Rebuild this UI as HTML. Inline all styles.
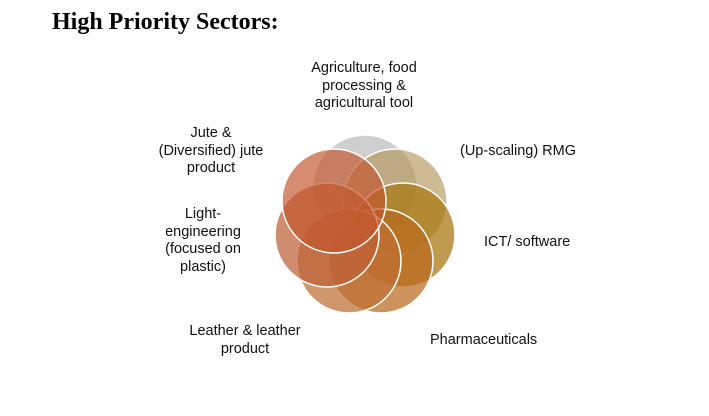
<!DOCTYPE html>
<html><head><style>
body{margin:0;width:709px;height:416px;background:#fff;position:relative;overflow:hidden;font-family:"Liberation Sans",sans-serif;}
.t{position:absolute;font-size:14.5px;line-height:17.5px;color:#111;text-align:center;white-space:nowrap;}
h1{position:absolute;left:52px;top:9px;margin:0;font-family:"Liberation Serif",serif;font-weight:bold;font-size:24px;color:#000;}
svg{position:absolute;left:0;top:0;}
</style></head><body>
<h1>High Priority Sectors:</h1>
<svg width="709" height="416">
<g stroke="#fff" stroke-width="1.5">
<circle cx="365" cy="187" r="52" fill="rgba(175,175,175,0.6)"/>
<circle cx="395" cy="201" r="52" fill="rgba(180,150,90,0.65)"/>
<circle cx="403" cy="235" r="52" fill="rgba(170,120,20,0.75)"/>
<circle cx="381" cy="261" r="52" fill="rgba(185,105,30,0.72)"/>
<circle cx="349" cy="261" r="52" fill="rgba(190,110,50,0.72)"/>
<circle cx="327" cy="235" r="52" fill="rgba(190,95,55,0.72)"/>
<circle cx="334" cy="201" r="52" fill="rgba(195,85,45,0.68)"/>
</g>
</svg>
<div class="t" style="left:284px;top:60px;width:160px;">Agriculture, food<br>processing &amp;<br>agricultural tool</div>
<div class="t" style="left:141px;top:125px;width:140px;">Jute &amp;<br>(Diversified) jute<br>product</div>
<div class="t" style="left:143px;top:206px;width:120px;">Light-<br>engineering<br>(focused on<br>plastic)</div>
<div class="t" style="left:460px;top:143px;">(Up-scaling) RMG</div>
<div class="t" style="left:484px;top:234px;">ICT/ software</div>
<div class="t" style="left:430px;top:332px;">Pharmaceuticals</div>
<div class="t" style="left:170px;top:323px;width:150px;">Leather &amp; leather<br>product</div>
</body></html>
